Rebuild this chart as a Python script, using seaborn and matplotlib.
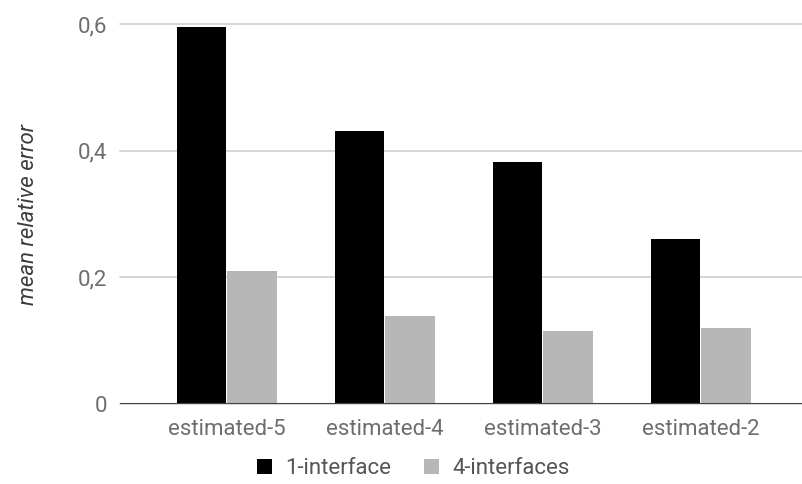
import pandas as pd
import matplotlib
matplotlib.use("Agg")
import matplotlib.pyplot as plt
import seaborn as sns
from matplotlib.ticker import FuncFormatter

# Datos
categorias = ["estimated-5", "estimated-4", "estimated-3", "estimated-2"]
series = ["1-interface", "4-interfaces"]
err_1_interface = [0.596, 0.431, 0.383, 0.261]
err_4_interfaces = [0.21, 0.139, 0.116, 0.12]
colores = ["#000000", "#b7b7b7"]

df = pd.DataFrame({
    "categoria": categorias * 2,
    "serie": [series[0]] * len(categorias) + [series[1]] * len(categorias),
    "error": err_1_interface + err_4_interfaces,
})

sns.set_style("white")
plt.rcParams["font.family"] = ["Roboto", "DejaVu Sans"]

fig = plt.figure(figsize=(8.02, 4.84), dpi=100)
ax = fig.add_axes([0.1496, 0.165, 0.8504, 0.785])

sns.barplot(data=df, x="categoria", y="error", hue="serie",
            palette=colores, width=0.635, gap=0.02, saturation=1,
            linewidth=0, ax=ax, zorder=3)

ax.set_xlim(-0.677, 3.64)
ax.set_ylim(0, 0.6)
ax.set_yticks([0, 0.2, 0.4, 0.6])
ax.yaxis.set_major_formatter(FuncFormatter(lambda v, p: f"{v:g}".replace(".", ",")))
ax.grid(axis="y", color="#d0d0d0", linewidth=1.2, zorder=0)
for g in ax.get_ygridlines():
    g.set_clip_on(False)
ax.axhline(0, color="#444444", linewidth=1.5, zorder=4)
sns.despine(ax=ax, left=True, bottom=True, top=True, right=True)

ax.tick_params(axis="both", length=0, labelsize=16, labelcolor="#6e6e6e")
ax.tick_params(axis="y", pad=9)
ax.tick_params(axis="x", pad=11)
ax.set_xlabel("")
ax.set_ylabel("mean relative error", fontsize=16, style="italic",
              color="#3c3c3c", labelpad=28)

ax.legend(loc="upper center", bbox_to_anchor=(0.43, -0.143), ncol=2,
          frameon=False, fontsize=16, handlelength=0.65, handleheight=0.65,
          handletextpad=0.6, columnspacing=1.5, labelcolor="#555555",
          borderaxespad=0, borderpad=0)

plt.savefig("out.png", dpi=100)
